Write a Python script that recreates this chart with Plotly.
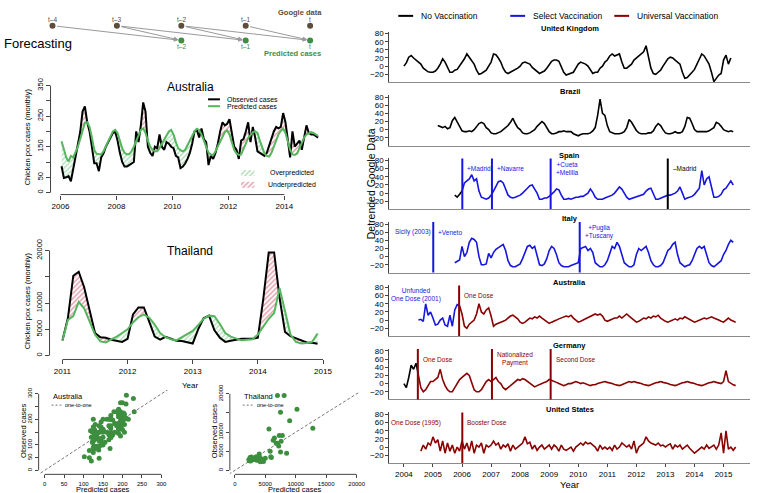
import plotly.graph_objects as go

W, H = 758, 493

# ---------------- data ----------------
# Australia monthly chicken pox cases (2006-2015)
aus_start = 2006.04
aus_obs = [86, 48, 50, 54, 37, 78, 125, 160, 198, 265, 282, 230,
           200, 150, 96, 96, 70, 115, 128, 150, 165, 175, 195, 200,
           170, 130, 100, 85, 85, 90, 95, 100, 200, 165, 220, 295,
           265, 150, 130, 120, 150, 145, 190, 150, 140, 165, 160, 150,
           145, 120, 115, 80, 85, 95, 110, 130, 160, 200, 205, 180,
           210, 175, 165, 90, 120, 110, 130, 160, 200, 230, 220, 225,
           240, 200, 150, 140, 110, 170, 175, 200, 230, 165, 215, 180,
           135, 130, 125, 120, 130, 155, 180, 200, 215, 210, 215, 260,
           230, 175, 115, 200, 150, 160, 170, 140, 185, 220, 195, 190,
           190, 185, 180]
aus_pred = [168, 140, 115, 102, 120, 115, 130, 150, 175, 200, 228, 230,
            215, 180, 140, 127, 125, 125, 135, 150, 170, 185, 200, 205,
            195, 170, 145, 130, 125, 125, 135, 150, 170, 190, 205, 210,
            195, 170, 150, 140, 135, 135, 145, 160, 175, 190, 200, 205,
            190, 165, 145, 139, 135, 140, 155, 170, 190, 200, 209, 205,
            190, 170, 145, 130, 125, 123, 135, 150, 170, 185, 198, 203,
            190, 165, 140, 128, 123, 125, 140, 160, 178, 190, 198, 200,
            195, 170, 145, 128, 120, 118, 130, 150, 170, 190, 202, 209,
            195, 165, 140, 125, 123, 128, 145, 165, 180, 190, 195, 198,
            195, 190, 185]

# Thailand monthly chicken pox cases (2011-2014)
tha_start = 2011.0
tha_obs = [2860, 7100, 15200, 15950, 13000, 8500, 4300, 3500, 3400, 3000, 2800, 2600,
           3200, 7850, 9150, 9150, 6400, 3600, 3050, 3550, 3200, 2800, 2750, 2500,
           2300, 5000, 7100, 7600, 4800, 3400, 2600, 2800, 3050, 3200, 3200, 3200,
           3400, 10800, 19600, 19600, 11000, 4500, 3700, 3300, 2800, 2500, 2450, 2250]
tha_pred = [2860, 6800, 7500, 10200, 9000, 6500, 4000, 2700, 2500, 3100, 3600, 4300,
            5000, 6300, 7300, 7800, 7200, 5900, 4300, 3500, 3100, 2900, 3500, 4000,
            4700, 5800, 7000, 7600, 7500, 6000, 4300, 3600, 3200, 2900, 3000, 3100,
            4000, 5600, 7000, 8100, 12800, 8500, 4000, 2600, 2300, 2400, 2600, 4200]

# Detrended Google data (monthly readings)
uk_start = 2004.0
uk = [0, 8, 22, 26, 20, 15, 12, 5, -5, -10, -14, -15,
      -15, -12, -5, 5, 18, 10, -5, -15, -15, -10, -8, 0,
      10, 18, 30, 22, 15, 5, -10, -20, -18, -15, -10, 0,
      10, 30, 28, 20, 10, -5, -15, -18, -15, -12, -10, -5,
      0, 8, 10, 8, 5, -3, -8, -15, -18, -15, -12, -5,
      5, 12, 15, 15, 12, 0, -15, -22, -20, -18, -15, -5,
      5, 10, 8, 5, 0, -10, -18, -15, -15, -5, 0, 10,
      15, 25, 30, 25, 28, 30, 10, -5, -5, 0, 5, 15,
      20, 25, 30, 35, 50, 20, -5, -18, -20, -15, -10, 0,
      10, 18, 22, 20, 15, 10, 5, -15, -30, -28, -20, -15,
      -8, 5, 18, 30, 25, 15, 5, -15, -38, -30, -22, -18,
      15, 27, 5, 20]
br_start = 2005 + 2 / 12
br = [10, 8, 5, 8, 2, 5, 22, 30, 18, 5,
      -3, -5, -5, -3, -5, 0, 8, 15, 18, 15, 5, 0,
      -8, -10, -10, -8, -5, 0, 5, 10, 18, 28, 15, 5,
      0, -8, -10, -10, -8, -5, 0, 8, 15, 20, 15, 5,
      -5, -10, -10, -8, -5, -5, -3, -5, -5, -5, -10, -12,
      -15, -12, -10, -10, -10, -8, -3, 5, 35, 75, 40, 35,
      10, -5, -8, -10, -10, -10, -8, -5, 5, 25, 18, 8,
      -2, -8, -10, -10, -10, -8, -8, -3, 8, 15, 10, 0,
      -8, -10, -10, -8, -5, -8, -8, -5, 8, 30, 28, 15,
      0, -5, -5, -5, -5, -5, -3, 0, 5, 18, 15, 8,
      0, -3, -5, -3, -5]
es_pre_start = 2005.75
es_pre = [-5, -10, -3, 5]
es_start = 2006.0
es = [5, 25, 30, 35, 45, 30, 35, 5, -10, -13, -15, -12,
      -5, 5, 18, 28, 30, 25, 10, -5, -10, -12, -10, -8,
      -5, 0, 5, 12, 18, 20, 10, 0, -15, -15, -12, -12,
      -8, -3, 3, 10, 8, -5, -15, -15, -13, -15, -12, -10,
      -10, -8, -8, -5, 0, 10, 2, -10, -15, -15, -15, -12,
      -10, -8, -5, 0, 8, 15, 10, 0, -10, -15, -13, -12,
      -10, -8, -5, -3, 5, 10, 12, -3, -15, -15, -12, -10,
      -8, -5, -5, -3, 0, 5, 15, 0, -15, -12, -10, -8,
      -3, 5, 12, 55, 20, 35, 40, 15, -10, -10, -8, -3,
      8, 12, 22, 30, 20]
it_start = 2005.75
it = [-15, -12, -8,
      25, 0, 10, 35, 45, 42, 35, 0, -20, -20, -18, 8,
      -3, 10, 18, 22, 28, 30, 15, -10, -22, -25, -25, -22,
      -18, -5, 10, 25, 28, 20, 25, 0, -20, -22, -18, -5,
      15, 25, 20, 5, -15, -22, -25, -25, -25, -22, -20, -18,
      -15, 20, 22, 25, 15, 20, 10, -15, -20, -25, -25, -20,
      -10, 10, 25, 20, 35, 25, 5, -15, -20, -25, -25, -20,
      5, 20, 15, 20, 25, 10, -10, -20, -25, -25, -22, -15,
      0, 15, 20, 30, 35, 5, -15, -20, -25, -22, -20, -10,
      5, 20, 25, 20, 25, 5, -15, -22, -25, -20, -15, -10,
      5, 15, 30, 40, 35]
au_pre_start = 2004.5
au_pre = [0, 2, -3, 40, 12, 20, 5, -12, -10, 0, 5, -12, -15, 12, -15, 25, 38, 35]
au_start = 2005 + 11 / 12
au = [35,
      15, -15, -20, -10, -5, 0, 15, 40, 20, 15, 25, 30,
      10, -15, -10, -8, -5, -3, 0, 5, 10, 12, 8, 3,
      -5, -8, -5, 0, 5, 3, 8, 5, 10, 5, 0, -5,
      -8, -5, -3, 0, 3, 5, 8, 10, 8, 12, 5, 0,
      -5, -3, 0, 2, 5, 8, 10, 15, 12, 15, 10, 0,
      -3, 0, 3, 5, 5, 10, 5, 10, 15, 10, 5, 0,
      -5, -3, 0, 5, 3, 8, 5, 10, 8, 12, 5, 0,
      -3, -5, -3, 0, 3, 0, 5, 3, 8, 5, 3, 0,
      -5, -3, 0, 3, 5, 3, 5, 8, 5, 3, 0, -3,
      -5, 0, 5, 0, -3, -5]
de_pre_start = 2004.0
de_pre = [0, -10, 15, 45, 35, 50, 20]
de_start = 2004.5
de = [20, -10, -20, -15, -5, 5,
      5, 10, 15, 35, 10, -5, -15, -20, -20, -10, 0, 10,
      15, 20, 25, 20, 5, -15, -20, -20, -15, -5, 5, 10,
      5, 10, 15, 5, 0, -10, -15, -10, -5, 0, 5, 10,
      8, 12, 10, 5, 0, -5, -8, -5, -3, 0, 3, 5,
      10, 8, 5, 3, 0, -3, -5, -3, 0, 0, 3, 5,
      3, 0, 2, 0, -3, -5, -3, -3, 0, 2, 3, 5,
      3, 2, 0, -2, -3, -5, -3, 0, 2, 5, 3, 5,
      3, 2, 0, -2, -3, -5, -3, 0, 2, 3, 5, 3,
      2, 0, -2, -3, -5, -3, 0, 2, 3, 5, 3, 2,
      0, -2, -3, -5, -3, 0, 2, 3, 5, 3, 2, 0,
      5, 32, 5, 0, -3, -5]
us_start = 2004 + 7 / 12
us = [-10, 5, -5, 10, 5,
      25, 10, 18, -10, 15, -15, 10, -10, 5, -15, 0, -10,
      15, -5, 10, -10, 15, -15, 5, 0, 10, -15, 5, 0,
      5, 15, 5, 10, -5, 5, 0, 8, -10, 5, -5, 0,
      5, 10, 25, 8, 12, -5, 5, -8, 0, 5, -5, 0,
      5, -5, 5, 0, -10, 5, -5, -8, -5, 0, -10, 0,
      5, 10, 5, 12, 8, 10, 5, 0, -10, 5, -5, 0,
      -5, 0, -8, 5, -5, 0, 10, 5, 0, 5, -5, 15,
      -15, 0, 5, 10, 25, 15, 10, 8, 5, 10, 3, 5,
      0, 5, 8, -5, 5, 0, 5, -5, 0, 5, -3, -8,
      -15, -10, -5, 0, -5, 5, -3, 0, 5, -5, 5, 35,
      -15, 40, -5, 0, -8, 0]

# policy change dates and labels
es_events = [2006.01, 2007.03, 2009.05, 2013.08]
es_labels = ["+Madrid", "+Navarre", "+Cueta<br>+Melilla", "–Madrid"]
es_colors = ["blue", "blue", "blue", "black"]
it_events = [2005.01, 2010.05]
it_labels = ["+Veneto", "+Puglia<br>+Tuscany"]
au_events = [2005.9]
au_labels = ["One Dose"]
de_events = [2004.48, 2007.03, 2009.05]
de_labels = ["One Dose", "Nationalized<br>Payment", "Second Dose"]
us_events = [2006.01]
us_labels = ["Booster Dose"]

lags = ["t–4", "t–3", "t–2", "t–1", "t"]
pred_lags = [2, 3, 4]
edges = [(0, 2), (1, 2), (1, 3), (2, 3), (2, 4), (3, 4)]

# ---------------- styling ----------------
FONT = "Liberation Sans, Arial, sans-serif"
GREEN = "#55B65E"
GREEN_DOT = "#3D8F3F"
GREEN_H = "#5DB86A"
RED_H = "#C2334F"
BROWN = "#5E4C3C"
BLUE = "#1616E0"
DRED = "#8B0000"
AX = "#444444"
COL = {"blue": BLUE, "red": DRED, "black": "black"}


def fx(p):
    return p / W


def fy(p):
    return 1 - p / H


def months(start, vals):
    return [start + i / 12 for i in range(len(vals))]


fig = go.Figure()
shapes, annos = [], []
layout = dict(width=W, height=H, margin=dict(l=0, r=0, t=0, b=0),
              paper_bgcolor="white", plot_bgcolor="rgba(0,0,0,0)",
              showlegend=False, hovermode=False,
              font=dict(family=FONT, color="black"))


def base_axis(**kw):
    d = dict(showgrid=False, zeroline=False, showline=False, fixedrange=True,
             ticks="", showticklabels=False)
    d.update(kw)
    return d


def text(x, y, s, size=8, color="black", xanchor="center", angle=0, bold=False,
         xref="paper", yref="paper", xshift=0, yshift=0, align="center"):
    if bold:
        s = "<b>" + s + "</b>"
    annos.append(dict(x=x, y=y, xref=xref, yref=yref, text=s, showarrow=False,
                      font=dict(size=size, color=color, family=FONT),
                      xanchor=xanchor, yanchor="middle", textangle=angle,
                      xshift=xshift, yshift=yshift, align=align))


def split_fill(x, a, b):
    xs, A, B = [x[0]], [a[0]], [b[0]]
    for i in range(1, len(x)):
        d0 = a[i - 1] - b[i - 1]
        d1 = a[i] - b[i]
        if d0 * d1 < 0:
            t = d0 / (d0 - d1)
            xc = x[i - 1] + t * (x[i] - x[i - 1])
            yc = a[i - 1] + t * (a[i] - a[i - 1])
            xs.append(xc); A.append(yc); B.append(yc)
        xs.append(x[i]); A.append(a[i]); B.append(b[i])
    lo = [min(p, q) for p, q in zip(A, B)]
    return xs, A, B, lo


def hatch(color):
    return dict(shape="/", fgcolor=color, bgcolor="rgba(0,0,0,0)", size=3.5, solidity=0.4)


def ts_panel(n, start, obs, pred):
    xa, ya = "x" + ("" if n == 1 else str(n)), "y" + ("" if n == 1 else str(n))
    x = months(start, obs)
    xs, A, B, lo = split_fill(x, obs, pred)
    nol = dict(width=0, color="rgba(0,0,0,0)")
    fig.add_trace(go.Scatter(x=xs, y=lo, mode="lines", line=nol, xaxis=xa, yaxis=ya))
    fig.add_trace(go.Scatter(x=xs, y=B, mode="lines", line=nol, fill="tonexty",
                             fillcolor="rgba(0,0,0,0)", fillpattern=hatch(GREEN_H),
                             xaxis=xa, yaxis=ya))
    fig.add_trace(go.Scatter(x=xs, y=lo, mode="lines", line=nol, xaxis=xa, yaxis=ya))
    fig.add_trace(go.Scatter(x=xs, y=A, mode="lines", line=nol, fill="tonexty",
                             fillcolor="rgba(0,0,0,0)", fillpattern=hatch(RED_H),
                             xaxis=xa, yaxis=ya))
    fig.add_trace(go.Scatter(x=x, y=obs, mode="lines", line=dict(color="black", width=2),
                             xaxis=xa, yaxis=ya))
    fig.add_trace(go.Scatter(x=x, y=pred, mode="lines", line=dict(color=GREEN, width=2),
                             xaxis=xa, yaxis=ya))


# ---------------- Australia time series (x, y) ----------------
ts_panel(1, aus_start, aus_obs, aus_pred)
layout["xaxis"] = base_axis(domain=[fx(51), fx(330)], range=[2005.646, 2015.522], anchor="y",
                            tickvals=[2006, 2008, 2010, 2012, 2014], ticks="outside", ticklen=4,
                            tickcolor=AX, showticklabels=True, tickfont=dict(size=8))
layout["yaxis"] = base_axis(domain=[fy(189), fy(75)], range=[-6.4, 359.6], anchor="x",
                            tickvals=[0, 50, 100, 150, 200, 250, 300, 350],
                            ticktext=["0", "50", "", "150", "", "250", "", "350"],
                            tickangle=-90, ticks="outside", ticklen=4, tickcolor=AX,
                            showticklabels=True, tickfont=dict(size=7.5))
shapes.append(dict(type="line", xref="x", yref="paper", x0=2006, x1=2014, y0=fy(189), y1=fy(189),
                   line=dict(color=AX, width=1)))
shapes.append(dict(type="line", xref="paper", yref="y", x0=fx(51), x1=fx(51), y0=0, y1=350,
                   line=dict(color=AX, width=1)))
text(fx(192), fy(79), "Australia", size=12)
text(fx(28), fy(130), "Chicken pox cases (monthly)", size=7.5, angle=-90)
# legend (lines)
for yy, col, lab in [(92, "black", "Observed cases"), (99, GREEN, "Predicted cases")]:
    shapes.append(dict(type="line", xref="paper", yref="paper", x0=fx(210), x1=fx(222),
                       y0=fy(yy), y1=fy(yy), line=dict(color=col, width=2)))
    text(fx(227), fy(yy), lab, size=7, xanchor="left")
# legend (hatch swatches) on axes x6/y6
fig.add_trace(go.Scatter(x=[0, 1, 1, 0, 0], y=[0.68, 0.68, 1, 1, 0.68], mode="lines", fill="toself",
                         line=dict(width=0, color="rgba(0,0,0,0)"), fillcolor="rgba(0,0,0,0)",
                         fillpattern=hatch(GREEN_H), xaxis="x6", yaxis="y6"))
fig.add_trace(go.Scatter(x=[0, 1, 1, 0, 0], y=[0.05, 0.05, 0.37, 0.37, 0.05], mode="lines", fill="toself",
                         line=dict(width=0, color="rgba(0,0,0,0)"), fillcolor="rgba(0,0,0,0)",
                         fillpattern=hatch(RED_H), xaxis="x6", yaxis="y6"))
layout["xaxis6"] = base_axis(domain=[fx(243), fx(257)], range=[0, 1], anchor="y6")
layout["yaxis6"] = base_axis(domain=[fy(183), fy(164)], range=[0, 1], anchor="x6")
text(fx(295), fy(167.5), "Overpredicted", size=7)
text(fx(295), fy(179), "Underpredicted", size=7)

# ---------------- Thailand time series (x2, y2) ----------------
ts_panel(2, tha_start, tha_obs, tha_pred)
layout["xaxis2"] = base_axis(domain=[fx(50), fx(332)], range=[2010.802, 2015.091], anchor="y2",
                             tickvals=[2011, 2012, 2013, 2014, 2015], ticks="outside", ticklen=4,
                             tickcolor=AX, showticklabels=True, tickfont=dict(size=8))
layout["yaxis2"] = base_axis(domain=[fy(357), fy(243)], range=[-748, 20561], anchor="x2",
                             tickvals=[0, 5000, 10000, 15000, 20000],
                             ticktext=["0", "5000", "10000", "", "20000"],
                             tickangle=-90, ticks="outside", ticklen=4, tickcolor=AX,
                             showticklabels=True, tickfont=dict(size=7.5))
shapes.append(dict(type="line", xref="x2", yref="paper", x0=2011, x1=2015, y0=fy(357), y1=fy(357),
                   line=dict(color=AX, width=1)))
shapes.append(dict(type="line", xref="paper", yref="y2", x0=fx(50), x1=fx(50), y0=0, y1=20000,
                   line=dict(color=AX, width=1)))
text(fx(192), fy(246), "Thailand", size=12)
text(fx(28), fy(297), "Chicken pox cases (monthly)", size=7.5, angle=-90)
text(fx(192), fy(384), "Year", size=8)


# ---------------- scatter panels (x3/y3, x4/y4) ----------------
def scatter_panel(n, obs, pred, xdom, xr, yr, ticks, xticktext, yticktext, title, lx):
    xa, ya = "x%d" % n, "y%d" % n
    lim = max(max(obs), max(pred)) * 2
    fig.add_trace(go.Scatter(x=[-lim, lim], y=[-lim, lim], mode="lines",
                             line=dict(color="#777777", width=1, dash="3px,2px"), xaxis=xa, yaxis=ya))
    fig.add_trace(go.Scatter(x=pred, y=obs, mode="markers",
                             marker=dict(color=GREEN_DOT, size=5), xaxis=xa, yaxis=ya))
    layout["xaxis%d" % n] = base_axis(domain=[fx(xdom[0]), fx(xdom[1])], range=xr, anchor=ya,
                                      tickvals=ticks, ticktext=xticktext, ticks="outside", ticklen=3,
                                      tickcolor=AX, showticklabels=True, tickfont=dict(size=6))
    layout["yaxis%d" % n] = base_axis(domain=[fy(474), fy(388)], range=yr, anchor=xa,
                                      tickvals=ticks, ticktext=yticktext, tickangle=-90,
                                      ticks="outside", ticklen=3, tickcolor=AX,
                                      showticklabels=True, tickfont=dict(size=6))
    shapes.append(dict(type="line", xref=xa, yref="paper", x0=ticks[0], x1=ticks[-1],
                       y0=fy(474), y1=fy(474), line=dict(color=AX, width=1)))
    shapes.append(dict(type="line", xref="paper", yref=ya, x0=fx(xdom[0]), x1=fx(xdom[0]),
                       y0=ticks[0], y1=ticks[-1], line=dict(color=AX, width=1)))
    text(fx(xdom[0] + 12), fy(394.5), title, size=7.5, xanchor="left")
    shapes.append(dict(type="line", xref="paper", yref="paper", x0=fx(xdom[0] + 13), x1=fx(xdom[0] + 23),
                       y0=fy(403.5), y1=fy(403.5), line=dict(color="#777777", width=1, dash="2px,2px")))
    text(fx(xdom[0] + 25), fy(403.5), "one-to-one", size=5.5, xanchor="left")
    text(fx(lx), fy(489.5), "Predicted cases", size=7.5)
    text(fx(xdom[0] - 16), fy(430), "Observed cases", size=7.5, angle=-90)


aus_ticks = [0, 50, 100, 150, 200, 250, 300]
tha_ticks = [0, 5000, 10000, 15000, 20000]
scatter_panel(3, aus_obs, aus_pred, (39, 172), [-15.3, 323], [-15.4, 315.4],
              aus_ticks, [str(t) for t in aus_ticks], ["0", "50", "100", "", "200", "", "300"],
              "Australia", 104)
scatter_panel(4, tha_obs, tha_pred, (232, 362), [-813, 20325], [-1026, 21026],
              tha_ticks, [str(t) for t in tha_ticks], ["0", "5000", "10000", "", "20000"],
              "Thailand", 298)

# ---------------- forecasting diagram (x5, y5) ----------------
fig.add_trace(go.Scatter(x=list(range(len(lags))), y=[1] * len(lags), mode="markers",
                         marker=dict(color=BROWN, size=6), xaxis="x5", yaxis="y5"))
fig.add_trace(go.Scatter(x=pred_lags, y=[0] * len(pred_lags), mode="markers",
                         marker=dict(color=GREEN_DOT, size=6), xaxis="x5", yaxis="y5"))
layout["xaxis5"] = base_axis(domain=[0, fx(370)], range=[-0.815, 4.877], anchor="y5")
layout["yaxis5"] = base_axis(domain=[fy(52), 1], range=[-1.333, 2.133], anchor="x5")
for s, d in edges:
    annos.append(dict(x=d, y=0, ax=s, ay=1, xref="x5", yref="y5", axref="x5", ayref="y5",
                      showarrow=True, arrowhead=2, arrowsize=0.9, arrowwidth=1,
                      arrowcolor="#9A9A9A", standoff=3, startstandoff=3, text=""))
for i, lab in enumerate(lags):
    text(i, 1, lab, size=6.5, color=BROWN, xref="x5", yref="y5", yshift=6)
for i in pred_lags:
    text(i, 0, lags[i], size=6.5, color=GREEN_DOT, xref="x5", yref="y5", yshift=-6)
text(fx(303), fy(3.5), "Google data", size=7.5, color=BROWN, bold=True)
text(fx(295), fy(45), "Predicted cases", size=7.5, color=GREEN_DOT, bold=True)
text(fx(2), fy(35), "Forecasting", size=13, xanchor="left")

# ---------------- right-hand Google data panels ----------------
right = [
    ("United Kingdom", [("black", uk_start, uk)], [], [], []),
    ("Brazil", [("black", br_start, br)], [], [], []),
    ("Spain", [("black", es_pre_start, es_pre), ("blue", es_start, es)],
     es_events, es_labels, es_colors),
    ("Italy", [("blue", it_start, it)], it_events, it_labels, ["blue"] * 2),
    ("Australia", [("blue", au_pre_start, au_pre), ("red", au_start, au)],
     au_events, au_labels, ["red"]),
    ("Germany", [("black", de_pre_start, de_pre), ("red", de_start, de)],
     de_events, de_labels, ["red"] * 3),
    ("United States", [("red", us_start, us)], us_events, us_labels, ["red"]),
]
XR = [2003.5, 2015.91]
for i, (name, series, ev, evlab, evcol) in enumerate(right):
    n = 7 + i
    xa, ya = "x%d" % n, "y%d" % n
    top80 = 25 + 64.67 * i
    for col, st, vals in series:
        fig.add_trace(go.Scatter(x=months(st, vals), y=vals, mode="lines",
                                 line=dict(color=COL[col], width=1.6), xaxis=xa, yaxis=ya))
    last = (i == len(right) - 1)
    layout["xaxis%d" % n] = base_axis(domain=[fx(393), fx(757)], range=XR, anchor=ya,
                                      showline=True, linecolor="#8A8A8A", linewidth=1,
                                      tickvals=list(range(2004, 2016)),
                                      ticks="outside" if last else "", ticklen=3, tickcolor=AX,
                                      showticklabels=last, tickfont=dict(size=8))
    layout["yaxis%d" % n] = base_axis(domain=[fy(top80 + 49.4), fy(top80 - 2.08)], range=[-39, 85],
                                      anchor=xa, showline=True, linecolor=AX, linewidth=1,
                                      tickvals=[-20, 0, 20, 40, 60, 80], ticks="outside", ticklen=3,
                                      tickcolor=AX, showticklabels=True, tickfont=dict(size=8))
    text(fx(575), fy(top80 - 5.5), name, size=7.5, bold=True)
    for xv, lab, c in zip(ev, evlab, evcol):
        shapes.append(dict(type="line", xref=xa, yref=ya + " domain", x0=xv, x1=xv, y0=0, y1=1,
                           line=dict(color=COL[c], width=2)))
        text(xv, 60, lab, size=6.5, color=COL[c], xanchor="left", xref=xa, yref=ya, xshift=3)

# labels for policies before the data window
text(2003.63, 60, "Sicily (2003)", size=6.5, color=BLUE, xanchor="left", xref="x10", yref="y10")
text(2004.42, 62, "Unfunded<br>One Dose (2001)", size=6.5, color=BLUE, xref="x11", yref="y11")
text(2004.42, 60, "One Dose (1995)", size=6.5, color=DRED, xref="x13", yref="y13")

text(fx(575), fy(484), "Year", size=9.5)
text(fx(374), fy(178), "Detrended Google Data", size=10.5, angle=-90)

# top legend for vaccination policy
for x0, col, lab in [(402, "black", "No Vaccination"), (515, BLUE, "Select Vaccination"),
                     (620, DRED, "Universal Vaccination")]:
    shapes.append(dict(type="line", xref="paper", yref="paper", x0=fx(x0), x1=fx(x0 + 15),
                       y0=fy(7), y1=fy(7), line=dict(color=col, width=2)))
    text(fx(x0 + 21), fy(7), lab, size=8.5, xanchor="left")

layout["shapes"] = shapes
layout["annotations"] = annos
fig.update_layout(**layout)
fig.write_html("out.html", config={"displayModeBar": False},
               post_script="document.body.style.margin='0px';document.body.style.overflow='hidden';")
